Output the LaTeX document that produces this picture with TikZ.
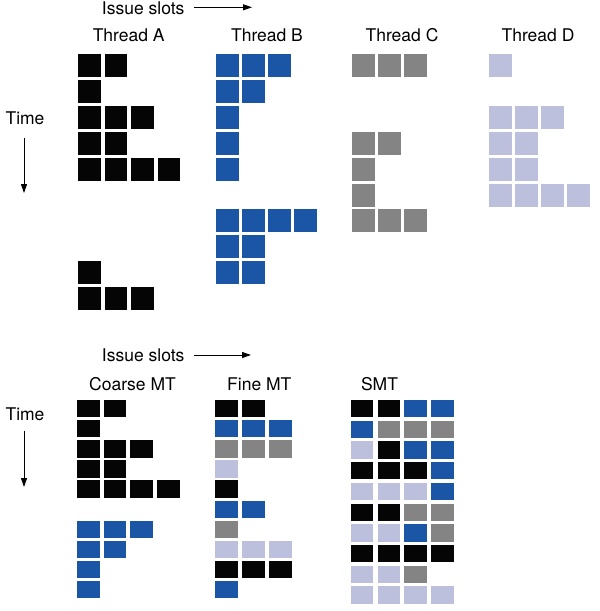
\documentclass[tikz,border=0pt]{standalone}
\usepackage{fontspec}
\setmainfont{TeX Gyre Heros}
\usetikzlibrary{arrows.meta}
\definecolor{cK}{HTML}{050505}
\definecolor{cB}{HTML}{1B55A6}
\definecolor{cG}{HTML}{848484}
\definecolor{cL}{HTML}{BCC0DC}
\newcommand\cellpanel[7]{%
  \foreach \r/\cs in {#7} {%
    \foreach \c [count=\i from 0] in \cs {%
      \fill[fill=c\c] ({#1+\i*#3},{#2+\r*#4}) rectangle ++(#5,#6);
    }%
  }%
}
\begin{document}
\begin{tikzpicture}[x=1pt,y=-1pt,
  lbl/.style={anchor=base,inner sep=0pt,font=\fontsize{17.5}{20}\selectfont},
  axarrow/.style={line width=0.9pt,-{Triangle[length=9pt,width=6pt]}}]
\useasboundingbox[fill=white] (0,0) rectangle (600,611);

% ---------- top part ----------
\node[lbl] (issue1) at (143.2,14.3) {Issue slots};
\coordinate (ia1) at (194,7.3);
\coordinate (ia2) at (252,7.3);
\draw[axarrow] (ia1) -- (ia2);
\node[lbl] (thA) at (128.7,41.7) {Thread A};
\node[lbl] (thB) at (267,41.7) {Thread B};
\node[lbl] (thC) at (402,41.7) {Thread C};
\node[lbl] (thD) at (538,41.7) {Thread D};
\node[lbl] (time1) at (25,124) {Time};
\coordinate (ta1) at (24,138);
\coordinate (ta2) at (24,193);
\draw[axarrow] (ta1) -- (ta2);

\cellpanel{78}{54}{26.5}{25.9}{22.7}{23}{0/{K,K},1/K,2/{K,K,K},3/{K,K},4/{K,K,K,K},8/K,9/{K,K,K}}
\cellpanel{216}{54}{26.1}{25.9}{22.7}{23}{0/{B,B,B},1/{B,B},2/B,3/B,4/B,6/{B,B,B,B},7/{B,B},8/{B,B}}
\cellpanel{352}{54}{25.9}{25.9}{22.7}{23}{0/{G,G,G},3/{G,G},4/G,5/G,6/{G,G,G}}
\cellpanel{489.3}{54}{25.9}{25.9}{22.7}{23}{0/L,2/{L,L,L},3/{L,L},4/{L,L},5/{L,L,L,L}}

% ---------- bottom part ----------
\node[lbl] (issue2) at (143.2,361) {Issue slots};
\coordinate (ib1) at (194,355);
\coordinate (ib2) at (251,355);
\draw[axarrow] (ib1) -- (ib2);
\node[lbl] (coarse) at (132.5,390) {Coarse MT};
\node[lbl] (fine) at (259.3,390) {Fine MT};
\node[lbl] (smt) at (379.5,390) {SMT};
\node[lbl] (time2) at (25,420) {Time};
\coordinate (tb1) at (24,430.7);
\coordinate (tb2) at (24,487);
\draw[axarrow] (tb1) -- (tb2);

\cellpanel{77}{400}{26.7}{20.1}{22.7}{17.3}{0/{K,K},1/K,2/{K,K,K},3/{K,K},4/{K,K,K,K},6/{B,B,B},7/{B,B},8/B,9/B}
\cellpanel{215}{400}{26.9}{20.1}{22.7}{17.3}{0/{K,K},1/{B,B,B},2/{G,G,G},3/L,4/K,5/{B,B},6/G,7/{L,L,L},8/{K,K,K},9/B}
\cellpanel{350.7}{400}{26.8}{20.7}{22.7}{17.3}{0/{K,K,B,B},1/{B,G,G,G},2/{L,K,B,B},3/{K,K,K,B},4/{L,L,L,B},5/{K,K,G,G},6/{L,L,B,G},7/{K,K,K,K},8/{L,L,G},9/{L,L,L,L}}
\end{tikzpicture}
\end{document}
